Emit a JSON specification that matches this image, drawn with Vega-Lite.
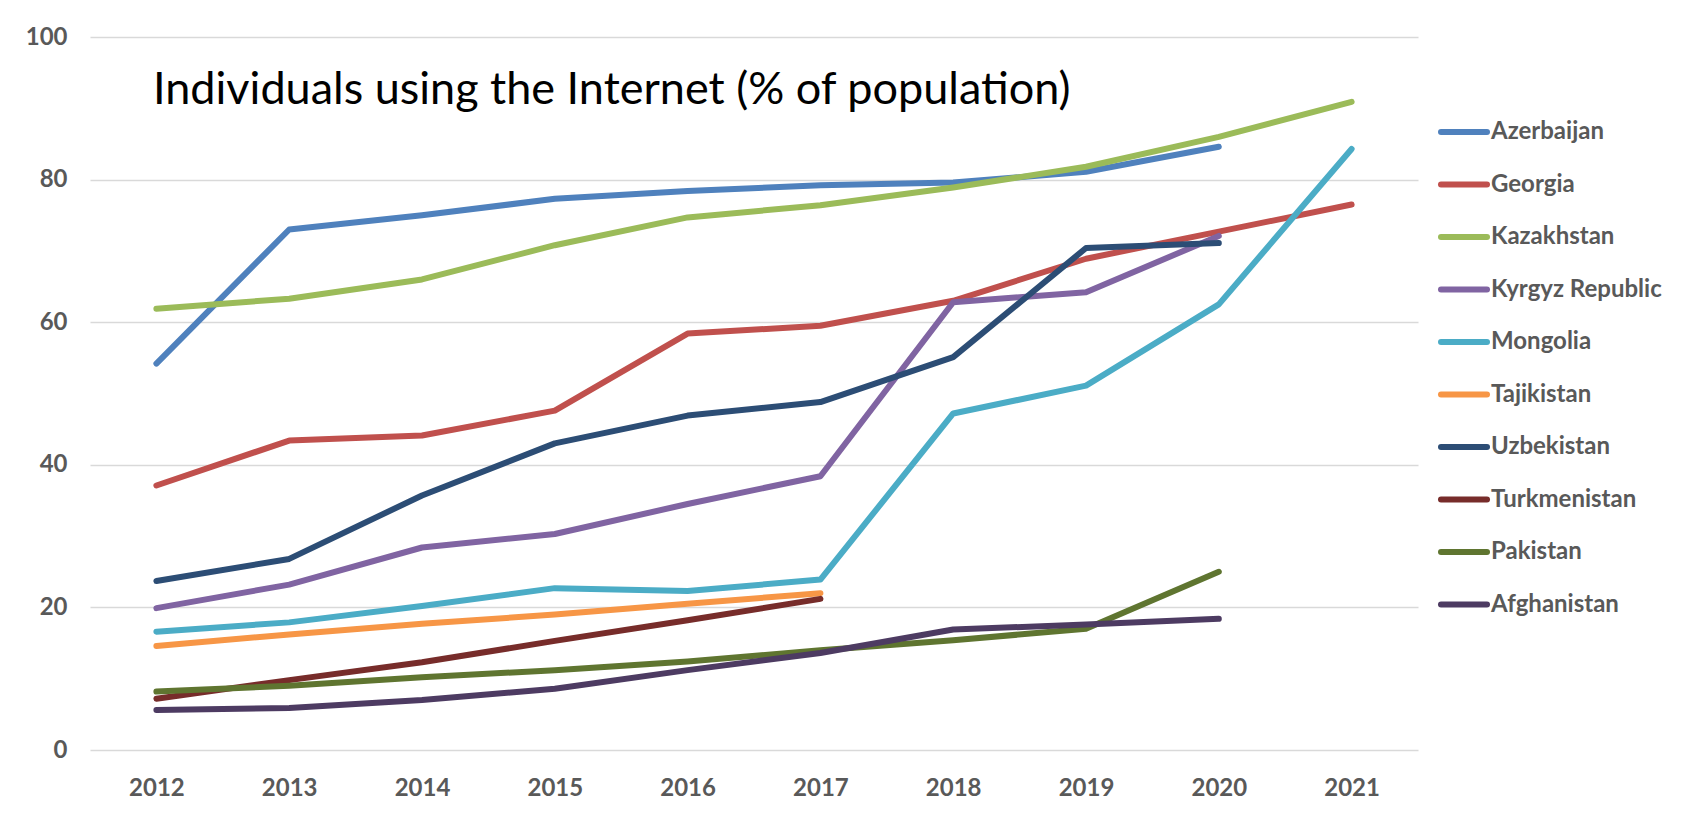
{
  "$schema": "https://vega.github.io/schema/vega-lite/v6.json",
  "width": 1328,
  "height": 713,
  "autosize": {"type": "none"},
  "padding": {"left": 90, "top": 37, "right": 263, "bottom": 65},
  "background": "white",
  "title": {
    "text": "Individuals using the Internet (% of population)",
    "anchor": "start",
    "frame": "group",
    "font": "Lato",
    "fontSize": 45,
    "fontWeight": "normal",
    "color": "#000000",
    "offset": -88,
    "dx": 63
  },
  "config": {
    "view": {"stroke": null},
    "font": "Lato"
  },
  "data": {
    "values": [
      {"country": "Azerbaijan", "year": "2012", "value": 54.2},
      {"country": "Azerbaijan", "year": "2013", "value": 73.0},
      {"country": "Azerbaijan", "year": "2014", "value": 75.0},
      {"country": "Azerbaijan", "year": "2015", "value": 77.3},
      {"country": "Azerbaijan", "year": "2016", "value": 78.4},
      {"country": "Azerbaijan", "year": "2017", "value": 79.2},
      {"country": "Azerbaijan", "year": "2018", "value": 79.6},
      {"country": "Azerbaijan", "year": "2019", "value": 81.1},
      {"country": "Azerbaijan", "year": "2020", "value": 84.6},
      {"country": "Georgia", "year": "2012", "value": 37.1},
      {"country": "Georgia", "year": "2013", "value": 43.4},
      {"country": "Georgia", "year": "2014", "value": 44.1},
      {"country": "Georgia", "year": "2015", "value": 47.6},
      {"country": "Georgia", "year": "2016", "value": 58.4},
      {"country": "Georgia", "year": "2017", "value": 59.5},
      {"country": "Georgia", "year": "2018", "value": 63.0},
      {"country": "Georgia", "year": "2019", "value": 68.9},
      {"country": "Georgia", "year": "2020", "value": 72.7},
      {"country": "Georgia", "year": "2021", "value": 76.5},
      {"country": "Kazakhstan", "year": "2012", "value": 61.9},
      {"country": "Kazakhstan", "year": "2013", "value": 63.3},
      {"country": "Kazakhstan", "year": "2014", "value": 66.0},
      {"country": "Kazakhstan", "year": "2015", "value": 70.8},
      {"country": "Kazakhstan", "year": "2016", "value": 74.7},
      {"country": "Kazakhstan", "year": "2017", "value": 76.4},
      {"country": "Kazakhstan", "year": "2018", "value": 78.9},
      {"country": "Kazakhstan", "year": "2019", "value": 81.8},
      {"country": "Kazakhstan", "year": "2020", "value": 86.0},
      {"country": "Kazakhstan", "year": "2021", "value": 90.9},
      {"country": "Kyrgyz Republic", "year": "2012", "value": 19.9},
      {"country": "Kyrgyz Republic", "year": "2013", "value": 23.2},
      {"country": "Kyrgyz Republic", "year": "2014", "value": 28.4},
      {"country": "Kyrgyz Republic", "year": "2015", "value": 30.3},
      {"country": "Kyrgyz Republic", "year": "2016", "value": 34.5},
      {"country": "Kyrgyz Republic", "year": "2017", "value": 38.4},
      {"country": "Kyrgyz Republic", "year": "2018", "value": 62.8},
      {"country": "Kyrgyz Republic", "year": "2019", "value": 64.2},
      {"country": "Kyrgyz Republic", "year": "2020", "value": 72.1},
      {"country": "Mongolia", "year": "2012", "value": 16.6},
      {"country": "Mongolia", "year": "2013", "value": 17.9},
      {"country": "Mongolia", "year": "2014", "value": 20.2},
      {"country": "Mongolia", "year": "2015", "value": 22.7},
      {"country": "Mongolia", "year": "2016", "value": 22.3},
      {"country": "Mongolia", "year": "2017", "value": 23.9},
      {"country": "Mongolia", "year": "2018", "value": 47.2},
      {"country": "Mongolia", "year": "2019", "value": 51.1},
      {"country": "Mongolia", "year": "2020", "value": 62.5},
      {"country": "Mongolia", "year": "2021", "value": 84.3},
      {"country": "Tajikistan", "year": "2012", "value": 14.6},
      {"country": "Tajikistan", "year": "2013", "value": 16.2},
      {"country": "Tajikistan", "year": "2014", "value": 17.7},
      {"country": "Tajikistan", "year": "2015", "value": 19.0},
      {"country": "Tajikistan", "year": "2016", "value": 20.5},
      {"country": "Tajikistan", "year": "2017", "value": 22.0},
      {"country": "Uzbekistan", "year": "2012", "value": 23.7},
      {"country": "Uzbekistan", "year": "2013", "value": 26.8},
      {"country": "Uzbekistan", "year": "2014", "value": 35.7},
      {"country": "Uzbekistan", "year": "2015", "value": 43.0},
      {"country": "Uzbekistan", "year": "2016", "value": 46.9},
      {"country": "Uzbekistan", "year": "2017", "value": 48.8},
      {"country": "Uzbekistan", "year": "2018", "value": 55.1},
      {"country": "Uzbekistan", "year": "2019", "value": 70.4},
      {"country": "Uzbekistan", "year": "2020", "value": 71.1},
      {"country": "Turkmenistan", "year": "2012", "value": 7.2},
      {"country": "Turkmenistan", "year": "2013", "value": 9.8},
      {"country": "Turkmenistan", "year": "2014", "value": 12.3},
      {"country": "Turkmenistan", "year": "2015", "value": 15.3},
      {"country": "Turkmenistan", "year": "2016", "value": 18.2},
      {"country": "Turkmenistan", "year": "2017", "value": 21.2},
      {"country": "Pakistan", "year": "2012", "value": 8.2},
      {"country": "Pakistan", "year": "2013", "value": 9.0},
      {"country": "Pakistan", "year": "2014", "value": 10.2},
      {"country": "Pakistan", "year": "2015", "value": 11.2},
      {"country": "Pakistan", "year": "2016", "value": 12.4},
      {"country": "Pakistan", "year": "2017", "value": 14.0},
      {"country": "Pakistan", "year": "2018", "value": 15.4},
      {"country": "Pakistan", "year": "2019", "value": 17.0},
      {"country": "Pakistan", "year": "2020", "value": 25.0},
      {"country": "Afghanistan", "year": "2012", "value": 5.6},
      {"country": "Afghanistan", "year": "2013", "value": 5.9},
      {"country": "Afghanistan", "year": "2014", "value": 7.0},
      {"country": "Afghanistan", "year": "2015", "value": 8.6},
      {"country": "Afghanistan", "year": "2016", "value": 11.2},
      {"country": "Afghanistan", "year": "2017", "value": 13.6},
      {"country": "Afghanistan", "year": "2018", "value": 16.9},
      {"country": "Afghanistan", "year": "2019", "value": 17.6},
      {"country": "Afghanistan", "year": "2020", "value": 18.4}
    ]
  },
  "mark": {"type": "line", "strokeWidth": 6, "strokeCap": "round", "strokeJoin": "round"},
  "encoding": {
    "x": {
      "field": "year",
      "type": "ordinal",
      "scale": {"type": "point", "padding": 0.5},
      "axis": {
        "title": null,
        "labelAngle": 0,
        "ticks": false,
        "domain": false,
        "grid": false,
        "labelPadding": 26,
        "labelFont": "Lato",
        "labelFontSize": 24,
        "labelFontWeight": "bold",
        "labelColor": "#595959"
      }
    },
    "y": {
      "field": "value",
      "type": "quantitative",
      "scale": {"domain": [0, 100], "nice": false},
      "axis": {
        "title": null,
        "values": [0, 20, 40, 60, 80, 100],
        "ticks": false,
        "domain": false,
        "grid": true,
        "gridColor": "#d9d9d9",
        "gridWidth": 1.5,
        "labelPadding": 23,
        "labelFont": "Lato",
        "labelFontSize": 24,
        "labelFontWeight": "bold",
        "labelColor": "#595959"
      }
    },
    "color": {
      "field": "country",
      "type": "nominal",
      "scale": {
        "domain": ["Azerbaijan", "Georgia", "Kazakhstan", "Kyrgyz Republic", "Mongolia", "Tajikistan", "Uzbekistan", "Turkmenistan", "Pakistan", "Afghanistan"],
        "range": ["#4F81BD", "#C0504D", "#9BBB59", "#8064A2", "#4BACC6", "#F79646", "#2C4D75", "#772C2A", "#5F7530", "#4D3B62"]
      },
      "legend": {
        "title": null,
        "orient": "none",
        "legendX": 1348,
        "legendY": 69,
        "padding": 0,
        "symbolType": "stroke",
        "symbolSize": 2116,
        "symbolStrokeWidth": 6,
        "rowPadding": 14.5,
        "labelOffset": 1,
        "labelFont": "Lato",
        "labelFontSize": 24,
        "labelFontWeight": "bold",
        "labelColor": "#595959",
        "labelLimit": 300,
        "encode": {"symbols": {"update": {"strokeCap": {"value": "round"}}}}
      }
    }
  }
}
